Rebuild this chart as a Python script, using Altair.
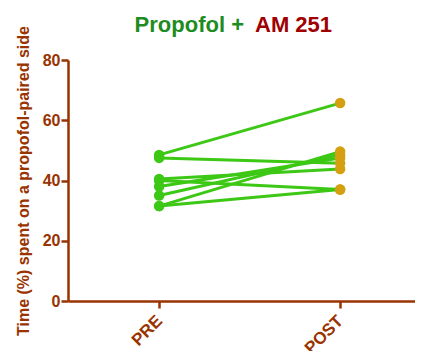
import altair as alt
import pandas as pd

# ---- data ----
phases = ["PRE", "POST"]
subjects = [1, 2, 3, 4, 5, 6, 7, 8]
pre_values = [48.5, 47.5, 40.5, 40.0, 38.0, 35.0, 31.5, 31.5]
post_values = [65.7, 45.7, 43.8, 37.0, 47.5, 48.5, 49.6, 37.0]
y_ticks = [0, 20, 40, 60, 80]
title_left = "Propofol +"
title_right = "AM 251"
y_title = "Time (%) spent on a propofol-paired side"

BROWN = "#993300"
LINE_GREEN = "#3cc814"
DOT_GOLD = "#d4a010"
TITLE_GREEN = "#1e8c1e"
TITLE_RED = "#a00000"
FONT = "Liberation Sans"

rows = []
for s, a, b in zip(subjects, pre_values, post_values):
    rows.append({"subject": s, "phase": phases[0], "value": a})
    rows.append({"subject": s, "phase": phases[1], "value": b})
df = pd.DataFrame(rows)

W = 347
# PRE at 91px, POST at 272px from the left of the plot
xscale = alt.Scale(domain=phases, type="point", padding=0.4586, align=0.549)
yscale = alt.Scale(domain=[0, 80], nice=False)

xaxis = alt.Axis(
    title=None, labelAngle=-45, labelAlign="right", labelBaseline="middle",
    labelFont=FONT, labelFontSize=17, labelFontWeight="bold", labelColor=BROWN,
    labelPadding=10, domainColor=BROWN, domainWidth=2.5, tickColor=BROWN,
    tickWidth=2.5, tickSize=7, grid=False,
)
yaxis = alt.Axis(
    title=y_title, values=y_ticks, labelFont=FONT, labelFontSize=16,
    labelFontWeight="bold", labelColor=BROWN, labelPadding=1,
    titleFont=FONT, titleFontSize=16, titleFontWeight="bold", titleColor=BROWN,
    titlePadding=11, domainColor=BROWN, domainWidth=2.5, tickColor=BROWN,
    tickWidth=2.5, tickSize=7, grid=False,
)

base = alt.Chart(df)

lines = base.mark_line(color=LINE_GREEN, strokeWidth=3).encode(
    x=alt.X("phase:N", scale=xscale, axis=xaxis, sort=phases),
    y=alt.Y("value:Q", scale=yscale, axis=yaxis),
    detail="subject:N",
)

dots = base.mark_circle(size=110, opacity=1).encode(
    x=alt.X("phase:N", scale=xscale, sort=phases),
    y=alt.Y("value:Q", scale=yscale),
    color=alt.Color("phase:N", scale=alt.Scale(domain=phases, range=[LINE_GREEN, DOT_GOLD]), legend=None),
)

t1 = alt.Chart(pd.DataFrame({"t": [title_left]})).mark_text(
    font=FONT, fontSize=22, fontWeight="bold", color=TITLE_GREEN,
    align="right", baseline="alphabetic",
).encode(text="t:N", x=alt.value(176), y=alt.value(-28))

t2 = alt.Chart(pd.DataFrame({"t": [title_right]})).mark_text(
    font=FONT, fontSize=22, fontWeight="bold", color=TITLE_RED,
    align="left", baseline="alphabetic",
).encode(text="t:N", x=alt.value(187), y=alt.value(-28))

chart = alt.layer(lines, dots, t1, t2).properties(
    width=W, height=241,
    autosize=alt.AutoSizeParams(type="none"),
    padding={"left": 60, "top": 52, "right": 0, "bottom": 50},
).configure_view(stroke=None)

chart.save("out.html", embed_options={"renderer": "svg", "actions": False})
